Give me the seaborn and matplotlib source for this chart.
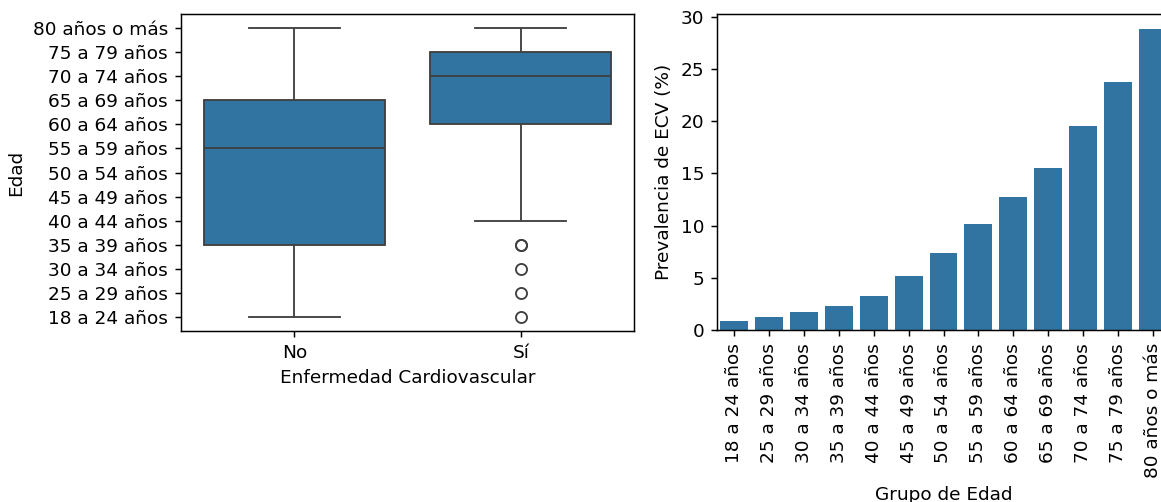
import numpy as np
import pandas as pd
import matplotlib
matplotlib.use("Agg")
import matplotlib.pyplot as plt
import seaborn as sns

age_groups = ["18 a 24 años", "25 a 29 años", "30 a 34 años", "35 a 39 años",
              "40 a 44 años", "45 a 49 años", "50 a 54 años", "55 a 59 años",
              "60 a 64 años", "65 a 69 años", "70 a 74 años", "75 a 79 años",
              "80 años o más"]
ecv_labels = ["No", "Sí"]
# respondents per age group (code 0..12) in each class
counts_no = [6, 6, 6, 12, 8, 6, 4, 6, 10, 14, 10, 7, 6]
counts_si = [1, 1, 1, 2, 3, 4, 6, 7, 10, 13, 16, 18, 19]
# prevalence of cardiovascular disease (%) per age group
prevalence = [0.9, 1.2, 1.7, 2.3, 3.3, 5.2, 7.4, 10.1, 12.7, 15.5, 19.5, 23.7, 28.8]

codes = np.arange(len(age_groups))
box_df = pd.DataFrame({
    "ECV": ["No"] * sum(counts_no) + ["Sí"] * sum(counts_si),
    "Edad": np.concatenate([np.repeat(codes, counts_no), np.repeat(codes, counts_si)]),
})
bar_df = pd.DataFrame({"Grupo": age_groups, "Prev": prevalence})

DPI = 133
fig = plt.figure(figsize=(1161 / DPI, 502 / DPI), dpi=DPI)
ax1 = fig.add_axes([181 / 1161, 171 / 502, 453 / 1161, 317 / 502])
ax2 = fig.add_axes([717 / 1161, 172 / 502, 453 / 1161, 316 / 502])

sns.boxplot(data=box_df, x="ECV", y="Edad", order=ecv_labels, ax=ax1)
ax1.set_yticks(codes)
ax1.set_yticklabels(age_groups)
ax1.set_xlabel("Enfermedad Cardiovascular")
ax1.set_ylabel("Edad")

sns.barplot(data=bar_df, x="Grupo", y="Prev", order=age_groups, ax=ax2)
ax2.tick_params(axis="x", rotation=90)
ax2.set_xlabel("Grupo de Edad")
ax2.set_ylabel("Prevalencia de ECV (%)")

fig.savefig("out.png", dpi=DPI)
